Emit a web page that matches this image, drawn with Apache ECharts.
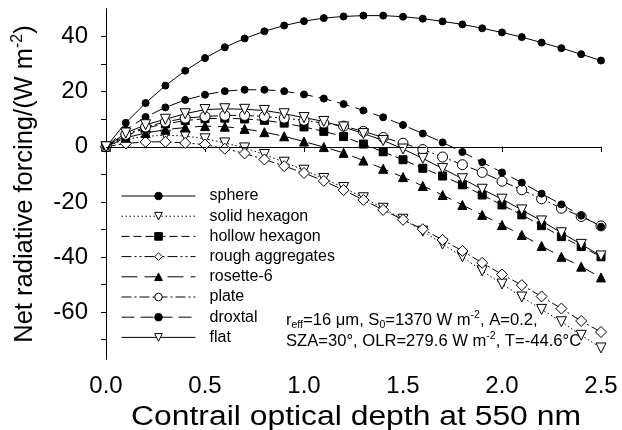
<!DOCTYPE html>
<html>
<head>
<meta charset="utf-8">
<script src="https://cdn.jsdelivr.net/npm/echarts@6/dist/echarts.min.js"></script>
<style>
  html, body { margin: 0; padding: 0; background: #fff; }
  #chart { width: 622px; height: 430px; }
</style>
</head>
<body>
<div id="chart"></div>
<script>
// Contrail optical depth (x) and net radiative forcing in W m^-2 for each crystal habit
const depth = [0.0, 0.1, 0.2, 0.3, 0.4, 0.5, 0.6, 0.7, 0.8, 0.9, 1.0, 1.1, 1.2,
               1.3, 1.4, 1.5, 1.6, 1.7, 1.8, 1.9, 2.0, 2.1, 2.2, 2.3, 2.4, 2.5];

const sphere   = [0, 8.7, 15.9, 22.2, 27.6, 32.2, 36.1, 39.3, 41.9, 44.0, 45.6, 46.7, 47.3,
                  47.6, 47.6, 47.2, 46.5, 45.5, 44.4, 43.0, 41.5, 39.8, 37.8, 35.8, 33.6, 31.3];
const solidHex = [0, 2.8, 3.8, 4.2, 3.9, 2.9, 1.4, -0.4, -2.8, -5.6, -8.5, -11.5, -14.8,
                  -18.5, -22.3, -26.3, -30.6, -35.3, -39.9, -45.0, -49.8, -54.5, -59.0, -63.5, -68.4, -73.0];
const hollowHex = [0, 4.0, 6.8, 8.3, 9.5, 10.2, 10.4, 10.1, 9.6, 8.6, 7.2, 5.6, 3.7,
                  1.0, -1.8, -4.7, -7.8, -10.6, -13.8, -17.5, -21.1, -24.7, -28.6, -32.6, -36.2, -39.9];
const roughAgg = [0, 1.2, 1.8, 1.8, 1.4, 0.8, -0.7, -2.4, -4.6, -7.0, -9.5, -12.4, -15.7,
                  -19.3, -22.9, -26.5, -29.9, -33.8, -37.8, -42.1, -46.3, -50.2, -54.3, -58.7, -63.2, -67.2];
const rosette6 = [0, 3.3, 5.0, 6.2, 7.0, 7.5, 7.3, 6.5, 5.3, 3.8, 1.9, -0.1, -2.2,
                  -5.0, -8.0, -11.0, -14.2, -17.5, -21.1, -24.7, -28.4, -32.0, -36.0, -39.9, -43.5, -47.4];
const plate    = [0, 4.5, 7.2, 9.0, 10.4, 11.0, 11.4, 11.4, 11.0, 10.4, 9.6, 8.6, 7.5,
                  5.6, 3.4, 1.3, -1.0, -3.7, -6.5, -9.3, -12.5, -15.6, -18.9, -22.3, -25.3, -28.7];
const droxtal  = [0, 6.2, 10.8, 14.3, 17.0, 18.9, 20.2, 20.7, 20.7, 20.2, 19.0, 17.5, 15.5,
                  13.2, 10.7, 7.9, 4.8, 1.6, -1.9, -5.6, -9.3, -13.0, -17.0, -20.9, -25.0, -29.0];
const flat     = [0, 5.0, 8.0, 10.0, 12.0, 13.5, 13.8, 13.6, 13.2, 12.0, 10.6, 9.2, 7.2,
                  4.8, 2.3, -0.8, -4.2, -7.9, -11.6, -15.4, -19.0, -22.9, -26.9, -31.2, -35.4, -39.6];

const yTickValues  = [-70, -60, -50, -40, -30, -20, -10, 0, 10, 20, 30, 40];
const yLabelValues = [-60, -40, -20, 0, 20, 40];

const FONT = '"Liberation Sans", Arial, Helvetica, sans-serif';
const INK = '#000';

function pairs(vals) { return depth.map((d, i) => [d, vals[i]]); }

function habit(name, vals, symbol, size, filled, dash, extra) {
  return Object.assign({
    name: name,
    type: 'line',
    data: pairs(vals),
    symbol: symbol,
    symbolSize: size,
    showAllSymbol: true,
    lineStyle: { color: INK, width: 1, type: dash },
    itemStyle: { color: filled ? INK : '#fff', borderColor: INK, borderWidth: 1 },
    emphasis: { disabled: true }
  }, extra || {});
}

const series = [
  habit('sphere', sphere, 'circle', 7, true, 'solid', {
    markLine: {
      silent: true, symbol: 'none', label: { show: false },
      lineStyle: { color: INK, width: 1, type: [12, 4, 2, 4] },
      data: [{ yAxis: 0 }]
    }
  }),
  habit('solid hexagon', solidHex, 'triangle', 10, false, [1.5, 2.5], { symbolRotate: 180 }),
  habit('hollow hexagon', hollowHex, 'rect', 8, true, [8, 4]),
  habit('rough aggregates', roughAgg, 'diamond', 11, false, [10, 3, 2, 3, 2, 3]),
  habit('rosette-6', rosette6, 'triangle', 9, true, [16, 7]),
  habit('plate', plate, 'circle', 10, false, [10, 3, 2, 3]),
  habit('droxtal', droxtal, 'circle', 7, true, [13, 6]),
  habit('flat', flat, 'triangle', 10, false, 'solid', { symbolRotate: 180 })
];

const chart = echarts.init(document.getElementById('chart'), null, { renderer: 'canvas' });

chart.setOption({
  animation: false,
  backgroundColor: '#fff',
  grid: { left: 106, right: 21, top: 9, bottom: 71, containLabel: false, outerBoundsMode: 'none' },
  legend: {
    orient: 'vertical',
    left: 116,
    top: 183,
    itemWidth: 74,
    itemHeight: 9.5,
    itemGap: 4.2,
    selectedMode: false,
    lineStyle: { width: 1 },
    itemStyle: { borderWidth: 1 },
    textStyle: { fontFamily: FONT, fontSize: 16, color: INK, lineHeight: 16, padding: [0, 0, 0, 9] },
    data: series.map(s => s.name)
  },
  xAxis: [{
    type: 'value', position: 'bottom', min: 0, max: 2.5, interval: 0.5,
    axisLine: { show: true, lineStyle: { color: INK, width: 1 } },
    axisTick: { show: true, inside: false, length: 5, lineStyle: { color: INK } },
    axisLabel: { fontFamily: FONT, fontSize: 24, color: INK, margin: 15,
                 formatter: v => v.toFixed(1) },
    splitLine: { show: false }
  }, {
    type: 'value', position: 'top', min: 0, max: 2.5, interval: 0.5,
    axisLine: { show: true, lineStyle: { color: INK, width: 1 } },
    axisTick: { show: true, inside: true, length: 5, lineStyle: { color: INK } },
    axisLabel: { show: false },
    splitLine: { show: false }
  }],
  yAxis: [{
    type: 'value', position: 'left', min: -77, max: 50,
    name: '{t|Net radiative forcing/(W m}{s|-2}{t|)}',
    nameLocation: 'middle', nameGap: 66,
    nameTextStyle: {
      rich: {
        t: { fontFamily: FONT, fontSize: 25.5, color: INK, lineHeight: 30 },
        s: { fontFamily: FONT, fontSize: 16, color: INK, lineHeight: 16, verticalAlign: 'top' }
      }
    },
    axisLine: { show: true, lineStyle: { color: INK, width: 1 } },
    axisTick: { show: true, inside: false, length: 5, customValues: yTickValues, lineStyle: { color: INK } },
    axisLabel: { fontFamily: FONT, fontSize: 24, color: INK, margin: 18, customValues: yLabelValues },
    splitLine: { show: false }
  }, {
    type: 'value', position: 'right', min: -77, max: 50,
    axisLine: { show: true, lineStyle: { color: INK, width: 1 } },
    axisTick: { show: true, inside: true, length: 5, customValues: yTickValues, lineStyle: { color: INK } },
    axisLabel: { show: false },
    splitLine: { show: false }
  }],
  graphic: [{
    // x-axis title, set in a slightly widened face
    type: 'text', x: 356, y: 418, scaleX: 1.18, silent: true,
    style: {
      text: 'Contrail optical depth at 550 nm',
      font: '27px ' + FONT,
      fill: INK,
      align: 'center', verticalAlign: 'middle',
      textAlign: 'center', textVerticalAlign: 'middle'
    }
  }, {
    type: 'text', left: 286, top: 310, silent: true,
    style: {
      text: '{n|r}{b|eff}{n|=16 \u03bcm, S}{b|0}{n|=1370 W m}{p|-2}{n|, A=0.2,}\n' +
            '{n|SZA=30\u00b0, OLR=279.6 W m}{p|-2}{n|, T=-44.6\u00b0C}',
      rich: {
        n: { fontFamily: FONT, fontSize: 16.6, fill: INK, lineHeight: 21 },
        b: { fontFamily: FONT, fontSize: 10.5, fill: INK, lineHeight: 11, verticalAlign: 'bottom' },
        p: { fontFamily: FONT, fontSize: 10.5, fill: INK, lineHeight: 11, verticalAlign: 'top' }
      }
    }
  }],
  series: series
});
</script>
</body>
</html>
